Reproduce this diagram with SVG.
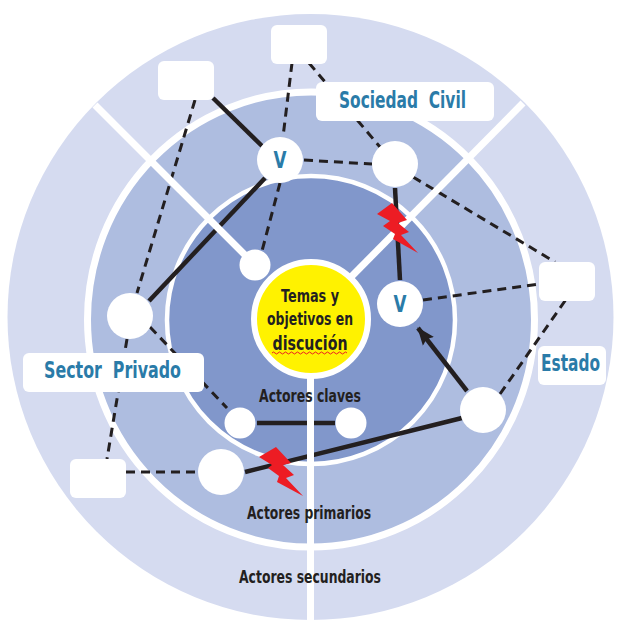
<svg xmlns="http://www.w3.org/2000/svg" width="632" height="622" viewBox="0 0 632 622">
<style>
.lab{font-family:"DejaVu Sans","Liberation Sans",sans-serif;font-weight:700;white-space:pre;}
.blk{fill:#231f20;font-size:18px;}
.blu{fill:#2a7ba8;font-size:23px;}
.sol{stroke:#231f20;stroke-width:4.5;fill:none;}
.dsh{stroke:#231f20;stroke-width:3;stroke-dasharray:9 6;fill:none;}
.wl{stroke:#fff;stroke-width:7;fill:none;}
.n{fill:#fff;}
.bolt{fill:#ed1c24;}
</style>
<defs>
<marker id="ah" markerUnits="userSpaceOnUse" markerWidth="20" markerHeight="16" refX="17" refY="8" orient="auto"><path d="M0 1L18 8L0 15L3 8Z" fill="#231f20"/></marker>
</defs>
<rect width="632" height="622" fill="#fff"/>
<g id="rings">
<circle cx="310.500" cy="317" r="303" fill="#d5dbf0"/>
<ellipse cx="311" cy="319.500" rx="223.500" ry="227.500" fill="#aebde0" stroke="#fff" stroke-width="7"/>
<circle cx="311" cy="320" r="144" fill="#8197cb" stroke="#fff" stroke-width="4.500"/>
</g>
<g id="connectors">
<path class="sol" d="M213 98L262 146"/>
<path class="sol" d="M265 178L149 301"/>
<path class="sol" d="M395 188L400 280"/>
<path class="sol" d="M257 423H335"/>
<path class="sol" d="M245 472L462 418"/>
<path class="sol" d="M467 391L418 328" marker-end="url(#ah)"/>
<path class="dsh" d="M292 63L283 137"/>
<path class="dsh" d="M195 100L137 293"/>
<path class="dsh" d="M280 183L262 251"/>
<path class="dsh" d="M304 160L372 164"/>
<path class="dsh" d="M309 63L380 147"/>
<path class="dsh" d="M413 177L555 262"/>
<path class="dsh" d="M423 300L539 284"/>
<path class="dsh" d="M500 394L567 298"/>
<path class="dsh" d="M126 472H198"/>
<path class="dsh" d="M150 327L227 408"/>
<path class="dsh" d="M127 339L107 459"/>
</g>
<g id="dividers">
<path class="wl" d="M95 105L255 265"/>
<path class="wl" d="M523 103L350 278" stroke-width="6"/>
<path class="wl" d="M310.500 375V622"/>
</g>
<g id="center"><circle cx="311" cy="319" r="57" fill="#fff200" stroke="#fff" stroke-width="6"/>
<text class="lab blk" x="310" y="302" text-anchor="middle" textLength="58" lengthAdjust="spacingAndGlyphs">Temas y</text>
<text class="lab blk" x="310" y="325" text-anchor="middle" textLength="86" lengthAdjust="spacingAndGlyphs">objetivos en</text>
<text class="lab blk" x="310" y="350" text-anchor="middle" textLength="75" lengthAdjust="spacingAndGlyphs" style="font-size:19px">discución</text>
<path d="M272 353q1.500 -2 3 0t3 0t3 0t3 0t3 0t3 0t3 0t3 0t3 0t3 0t3 0t3 0t3 0t3 0t3 0t3 0t3 0t3 0t3 0t3 0t3 0t3 0t3 0t3 0t3 0" fill="none" stroke="#ed1c24" stroke-width="1"/>
</g>
<g id="node-v1"><circle class="n" cx="280" cy="160" r="23"/><text class="lab blu" x="273.500" y="168" textLength="13" lengthAdjust="spacingAndGlyphs">V</text></g>
<g id="node-c2"><circle class="n" cx="395" cy="164" r="23"/></g>
<g id="node-v2"><circle class="n" cx="400" cy="304" r="23"/><text class="lab blu" x="393.500" y="312" textLength="13" lengthAdjust="spacingAndGlyphs">V</text></g>
<g id="node-k1"><circle class="n" cx="255" cy="265" r="15.500"/></g>
<g id="node-p1"><circle class="n" cx="130" cy="316" r="23"/></g>
<g id="node-k2"><circle class="n" cx="240" cy="423" r="15.500"/></g>
<g id="node-k3"><circle class="n" cx="351" cy="423" r="15.500"/></g>
<g id="node-p2"><circle class="n" cx="221" cy="472" r="23"/></g>
<g id="node-p3"><circle class="n" cx="483" cy="410" r="23"/></g>
<g id="node-s1"><rect class="n" x="158" y="61" width="56" height="39" rx="6"/></g>
<g id="node-s2"><rect class="n" x="271" y="25" width="56" height="39" rx="6"/></g>
<g id="node-s3"><rect class="n" x="539" y="262" width="56" height="39" rx="6"/></g>
<g id="node-s4"><rect class="n" x="70" y="459" width="56" height="39" rx="6"/></g>
<g id="label-sociedad"><rect class="n" x="316" y="82" width="178" height="39" rx="6"/><text class="lab blu" x="339" y="108" textLength="127" lengthAdjust="spacingAndGlyphs">Sociedad  Civil</text></g>
<g id="label-sector"><rect class="n" x="23" y="353" width="181" height="39" rx="6"/><text class="lab blu" x="44" y="378" textLength="137" lengthAdjust="spacingAndGlyphs">Sector  Privado</text></g>
<g id="label-estado"><rect class="n" x="538" y="346" width="68" height="39" rx="6"/><text class="lab blu" x="541" y="371" textLength="59" lengthAdjust="spacingAndGlyphs">Estado</text></g>
<g id="labels">
<text class="lab blk" x="259" y="402" textLength="102" lengthAdjust="spacingAndGlyphs">Actores claves</text>
<text class="lab blk" x="247" y="519" textLength="124" lengthAdjust="spacingAndGlyphs">Actores primarios</text>
<text class="lab blk" x="239" y="583" textLength="142" lengthAdjust="spacingAndGlyphs">Actores secundarios</text>
</g>
<g id="bolts">
<polygon class="bolt" points="377,214 392,203 407,220 398,223 409,232 401,235 418,253 393,239 395,234 383,226 390,221"/>
<polygon class="bolt" points="259,457 276,447 291,463 283,465 294,475 286,478 303,496 277,482 279,476 268,468 272,465"/>
</g>
</svg>
